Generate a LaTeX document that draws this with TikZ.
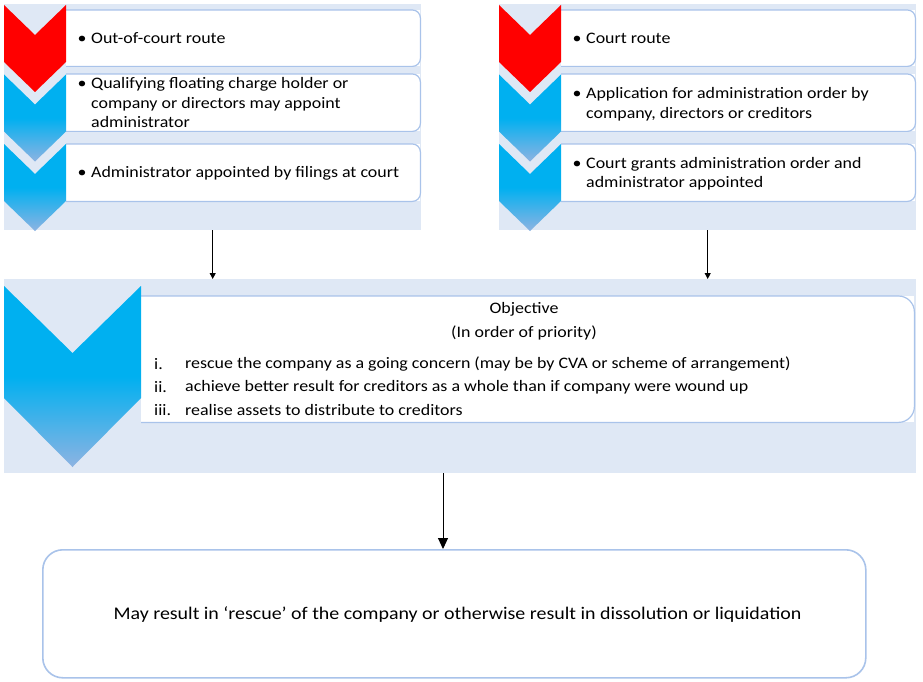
\documentclass[tikz,border=0pt]{standalone}
\usepackage{fontspec}
\setmainfont[FakeStretch=1.12]{Carlito}
\usetikzlibrary{arrows.meta}
\definecolor{bgblue}{HTML}{DFE8F5}
\definecolor{edgeblue}{HTML}{A9C3EA}
\definecolor{chevblue}{HTML}{00B0F0}
\definecolor{chevlow}{HTML}{8DB3E2}
\definecolor{chevred}{HTML}{FF0000}
\begin{document}
\begin{tikzpicture}[x=1pt,y=-1pt,
  panel/.style={fill=bgblue, draw=none, inner sep=0pt, anchor=north west},
  tbox/.style={fill=white, draw=none, inner sep=0pt, anchor=north west},
  edge/.style={draw=edgeblue, line width=1.2pt},
  toptext/.style={inner sep=0pt, anchor=west, font=\fontsize{16}{19.5}\selectfont},
  midtext/.style={inner sep=0pt, font=\fontsize{16}{19.5}\selectfont},
  bottext/.style={inner sep=0pt, font=\fontsize{17.8}{21}\selectfont},
  conn/.style={draw=black, line width=0.9pt, -{Triangle[length=6pt,width=6pt]}},
  bigconn/.style={draw=black, line width=1pt, -{Triangle[length=11pt,width=10pt]}},
  redchev/.style={fill=chevred},
  bluechev/.style={top color=chevblue, bottom color=chevlow, middle color=chevblue}
]
\useasboundingbox (0,0) rectangle (923,682);
\fill[white] (0,0) rectangle (923,682);

% ---------- left panel ----------
\node[panel, minimum width=417, minimum height=226] (lp) at (4,4) {};
\node[tbox, minimum width=354, minimum height=56] (l1) at (66,10) {};
\node[tbox, minimum width=354, minimum height=57] (l2) at (66,74) {};
\node[tbox, minimum width=354, minimum height=57] (l3) at (66,144) {};
\foreach \b in {l1,l2,l3}{
  \draw[edge, rounded corners=8pt] (\b.north west) -- (\b.north east) -- (\b.south east) -- (\b.south west);
}
\fill[redchev] (4,5) -- (35,35) -- (66,5) -- (66,62) -- (35,92) -- (4,62) -- cycle;
\shade[bluechev] (4,74.5) -- (35,104.5) -- (66,74.5) -- (66,131.5) -- (35,161.5) -- (4,131.5) -- cycle;
\shade[bluechev] (4,144) -- (35,174) -- (66,144) -- (66,201) -- (35,231) -- (4,201) -- cycle;
\node[toptext] (l1t) at (77.5,40) {\begin{tabular}{@{}p{13.5pt}@{}l@{}}\textbullet & Out-of-court route\end{tabular}};
\node[toptext] (l2t) at (77.5,104.5) {\begin{tabular}{@{}p{13.5pt}@{}l@{}}\textbullet & Qualifying floating charge holder or\\ & company or directors may appoint\\ & administrator\end{tabular}};
\node[toptext] (l3t) at (77.5,174) {\begin{tabular}{@{}p{13.5pt}@{}l@{}}\textbullet & Administrator appointed by filings at court\end{tabular}};

% ---------- right panel ----------
\node[panel, minimum width=417, minimum height=226] (rp) at (499,4) {};
\node[tbox, minimum width=354, minimum height=56] (r1) at (561,10) {};
\node[tbox, minimum width=354, minimum height=57] (r2) at (561,74) {};
\node[tbox, minimum width=354, minimum height=57] (r3) at (561,144) {};
\foreach \b in {r1,r2,r3}{
  \draw[edge, rounded corners=8pt] (\b.north west) -- (\b.north east) -- (\b.south east) -- (\b.south west);
}
\fill[redchev] (499,5) -- (530,35) -- (561,5) -- (561,62) -- (530,92) -- (499,62) -- cycle;
\shade[bluechev] (499,74.5) -- (530,104.5) -- (561,74.5) -- (561,131.5) -- (530,161.5) -- (499,131.5) -- cycle;
\shade[bluechev] (499,144) -- (530,174) -- (561,144) -- (561,201) -- (530,231) -- (499,201) -- cycle;
\node[toptext] (r1t) at (572.5,40) {\begin{tabular}{@{}p{13.5pt}@{}l@{}}\textbullet & Court route\end{tabular}};
\node[toptext] (r2t) at (572.5,104.5) {\begin{tabular}{@{}p{13.5pt}@{}l@{}}\textbullet & Application for administration order by\\ & company, directors or creditors\end{tabular}};
\node[toptext] (r3t) at (572.5,174) {\begin{tabular}{@{}p{13.5pt}@{}l@{}}\textbullet & Court grants administration order and\\ & administrator appointed\end{tabular}};

% ---------- middle panel ----------
\node[panel, minimum width=912, minimum height=194] (mp) at (4,279) {};
\node[tbox, minimum width=773, minimum height=126] (mb) at (141,296) {};
\draw[edge, rounded corners=16pt] (mb.north west) -- (mb.north east) -- (mb.south east) -- (mb.south west);
\shade[bluechev] (4,286) -- (72.5,353) -- (141,286) -- (141,398) -- (72.5,467) -- (4,398) -- cycle;
\node[midtext] (mt1) at (524,309) {Objective};
\node[midtext] (mt2) at (524,333) {(In order of priority)};
\node[midtext, anchor=west] (mi1n) at (154,364) {i.};
\node[midtext, anchor=west] (mi2n) at (154,387.5) {ii.};
\node[midtext, anchor=west] (mi3n) at (154,410) {iii.};
\node[midtext, anchor=west] (mi1) at (185,364) {rescue the company as a going concern (may be by CVA or scheme of arrangement)};
\node[midtext, anchor=west] (mi2) at (185,387.5) {achieve better result for creditors as a whole than if company were wound up};
\node[midtext, anchor=west] (mi3) at (185,410) {realise assets to distribute to creditors};

% ---------- bottom box ----------
\node[draw=edgeblue, line width=1.6pt, fill=white, rounded corners=20pt, minimum width=823, minimum height=128, inner sep=0pt, anchor=north west] (bot) at (42,549) {};
\node[bottext] (bott) at (457.5,615) {May result in ‘rescue’ of the company or otherwise result in dissolution or liquidation};

% ---------- connectors ----------
\draw[conn] (lp.south) -- (lp.south |- mp.north);
\draw[conn] (rp.south) -- (rp.south |- mp.north);
\coordinate (mpout) at (443,473);
\draw[bigconn] (mpout) -- (mpout |- bot.north);
\end{tikzpicture}
\end{document}
